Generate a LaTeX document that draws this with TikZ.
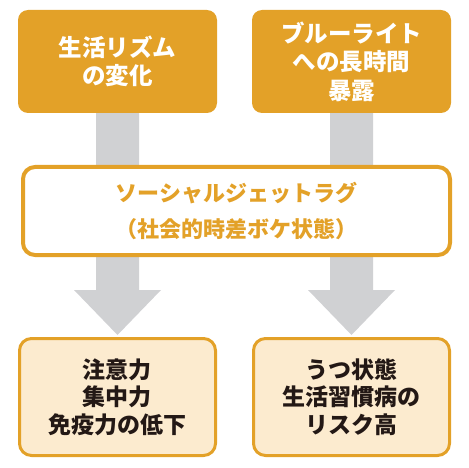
\documentclass[tikz,border=0pt]{standalone}
\usepackage{fontspec}
\newfontfamily\jp{Noto Sans CJK JP}
\usetikzlibrary{calc,backgrounds}
\definecolor{orng}{RGB}{227,161,40}
\definecolor{cream}{RGB}{252,235,207}
\definecolor{agray}{RGB}{208,209,211}
\definecolor{dtext}{RGB}{35,24,21}
\tikzset{
  topbox/.style={fill=orng, draw=none, rounded corners=10pt, minimum width=199pt, minimum height=103pt,
    text=white, align=center, font=\jp\bfseries\fontsize{23.5}{28.5}\selectfont, inner sep=0pt},
  midbox/.style={fill=white, draw=orng, line width=4pt, rounded corners=12pt, minimum width=427pt, minimum height=88pt,
    text=orng, align=center, font=\jp\bfseries\fontsize{22}{36}\selectfont, inner sep=0pt},
  botbox/.style={fill=cream, draw=orng, line width=3pt, rounded corners=12pt, minimum width=196pt, minimum height=117pt,
    text=dtext, align=center, font=\jp\bfseries\fontsize{23}{27.5}\selectfont, inner sep=0pt},
}
\begin{document}
\begin{tikzpicture}[x=1pt,y=1pt]
\useasboundingbox (0,0) rectangle (469,-468);
\node[topbox] (tl) at (117.5,-61.5) {生活リズム\\の変化};
\node[topbox] (tr) at (351.5,-61.5) {ブルーライト\\への長時間\\暴露};
\node[midbox] (mid) at (236.5,-211) {ソーシャルジェットラグ\\（社会的時差ボケ状態）};
\node[botbox] (bl) at (117.5,-397) {注意力\\集中力\\免疫力の低下};
\node[botbox] (br) at (351.5,-397) {うつ状態\\生活習慣病の\\リスク高};
\begin{scope}[on background layer]
\foreach \a/\b in {tl/bl,tr/br}{
  \fill[agray] ($(\a.south)+(-21.5,0)$) -- ($(\a.south)+(21.5,0)$) -- ($(\b.north)+(21.5,47)$)
    -- ($(\b.north)+(43.5,47)$) -- ($(\b.north)+(0,2)$) -- ($(\b.north)+(-43.5,47)$)
    -- ($(\b.north)+(-21.5,47)$) -- cycle;
}
\end{scope}
\end{tikzpicture}
\end{document}
